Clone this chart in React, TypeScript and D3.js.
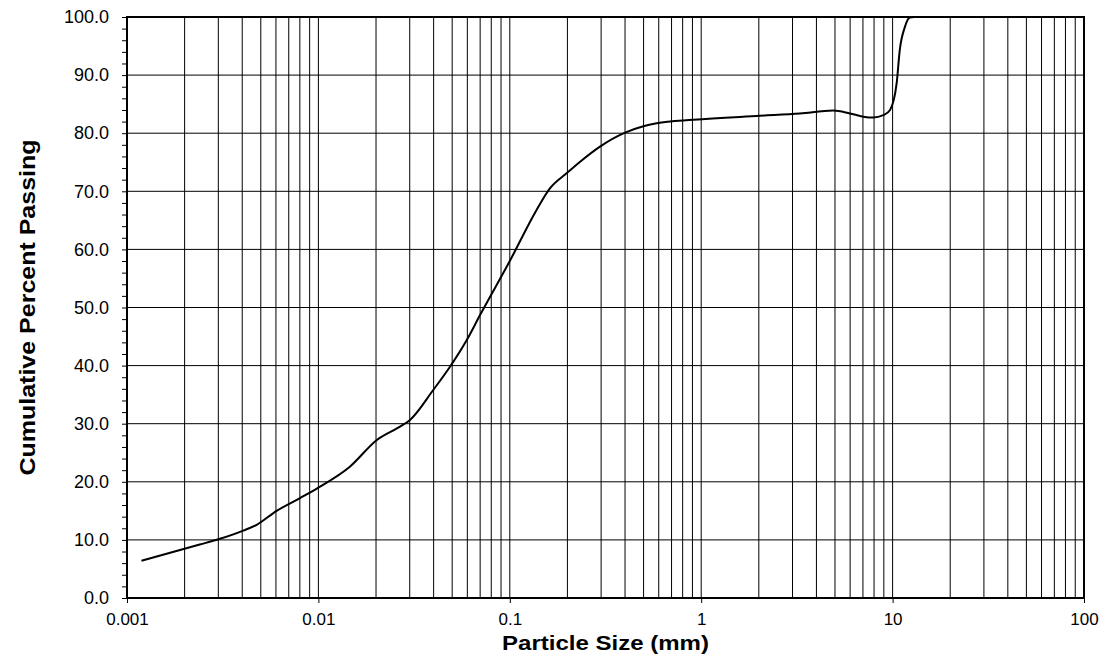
import { useEffect, useRef } from "react";
import * as d3 from "d3";

const WIDTH = 1114;
const HEIGHT = 657;
const MARGIN = { top: 17, right: 30, bottom: 59, left: 127 };
const INNER_W = WIDTH - MARGIN.left - MARGIN.right;
const INNER_H = HEIGHT - MARGIN.top - MARGIN.bottom;

// particle size (mm)
const sizes = [
  0.00119, 0.0024, 0.003, 0.00405, 0.00476, 0.00605, 0.00802, 0.01, 0.0146,
  0.0202, 0.0267, 0.03, 0.0398, 0.0487, 0.0596, 0.0699, 0.1, 0.138, 0.162,
  0.198, 0.233, 0.296, 0.4, 0.499, 0.585, 0.91, 2.03, 3.28, 4.9, 5.98, 7.03,
  7.93, 8.94, 9.7, 10.5, 10.9, 11.6, 12.3, 13, 25,
];
// cumulative percent passing
const passing = [
  6.4, 9.2, 10.1, 11.6, 12.6, 15.0, 17.2, 19.0, 22.6, 27.2, 29.5, 30.6, 35.8,
  39.8, 44.4, 48.7, 58.0, 66.8, 70.5, 73.1, 75.1, 77.7, 80.1, 81.2, 81.7,
  82.3, 83.0, 83.4, 83.9, 83.4, 82.85, 82.7, 83.1, 84.0, 88.6, 94.3, 98.3,
  99.9, 100, 100,
];

const xTicks = [0.001, 0.01, 0.1, 1, 10, 100];
const xTickLabels = ["0.001", "0.01", "0.1", "1", "10", "100"];
const yTicks = [0, 10, 20, 30, 40, 50, 60, 70, 80, 90, 100];

const FONT = "Arial, 'Liberation Sans', Helvetica, sans-serif";

export default function App() {
  const svgRef = useRef<SVGSVGElement>(null);

  useEffect(() => {
    document.body.style.margin = "0";
    if (!svgRef.current) return;
    const svg = d3.select(svgRef.current);
    svg.selectAll("*").remove();

    const x = d3.scaleLog().domain([0.001, 100]).range([0, INNER_W]);
    const y = d3.scaleLinear().domain([0, 100]).range([INNER_H, 0]);

    const g = svg
      .append("g")
      .attr("transform", `translate(${MARGIN.left},${MARGIN.top})`);

    // vertical grid: 1..9 in each decade
    const minorX: number[] = [];
    for (let d = -3; d <= 1; d++) {
      for (let k = 1; k <= 9; k++) minorX.push(k * Math.pow(10, d));
    }
    g.append("g")
      .selectAll("line")
      .data(minorX)
      .join("line")
      .attr("x1", (d) => x(d))
      .attr("x2", (d) => x(d))
      .attr("y1", 0)
      .attr("y2", INNER_H)
      .attr("stroke", "#000")
      .attr("stroke-width", 1);

    // horizontal grid
    g.append("g")
      .selectAll("line")
      .data(yTicks.slice(1, -1))
      .join("line")
      .attr("x1", 0)
      .attr("x2", INNER_W)
      .attr("y1", (d) => y(d))
      .attr("y2", (d) => y(d))
      .attr("stroke", "#000")
      .attr("stroke-width", 1);

    // minor y ticks
    const minorY = d3.range(0, 101, 2).filter((v) => v % 10 !== 0);
    g.append("g")
      .call(d3.axisLeft(y).tickValues(minorY).tickSize(5).tickFormat(() => ""))
      .call((a) => a.select(".domain").remove());

    // y axis
    g.append("g")
      .call(
        d3
          .axisLeft(y)
          .tickValues(yTicks)
          .tickSize(5)
          .tickPadding(13)
          .tickFormat((d) => (d as number).toFixed(1))
      )
      .call((a) => a.select(".domain").remove())
      .selectAll("text")
      .style("font-family", FONT)
      .style("font-size", "18px")
      .style("fill", "#000");

    // x axis
    g.append("g")
      .attr("transform", `translate(0,${INNER_H})`)
      .call(
        d3
          .axisBottom(x)
          .tickValues(xTicks)
          .tickSize(5)
          .tickPadding(10)
          .tickFormat((_, i) => xTickLabels[i])
      )
      .call((a) => a.select(".domain").remove())
      .selectAll("text")
      .style("font-family", FONT)
      .style("font-size", "17px")
      .style("fill", "#000");

    // frame
    g.append("rect")
      .attr("x", 0)
      .attr("y", 0)
      .attr("width", INNER_W)
      .attr("height", INNER_H)
      .attr("fill", "none")
      .attr("stroke", "#000")
      .attr("stroke-width", 2);

    // curve
    const pts = sizes.map((s, i) => [s, passing[i]] as [number, number]);
    g.append("path")
      .datum(pts)
      .attr("fill", "none")
      .attr("stroke", "#000")
      .attr("stroke-width", 2)
      .attr(
        "d",
        d3
          .line<[number, number]>()
          .x((d) => x(d[0]))
          .y((d) => y(d[1]))
          .curve(d3.curveMonotoneX)
      );

    // axis titles
    svg
      .append("text")
      .attr("x", MARGIN.left + INNER_W / 2)
      .attr("y", 650)
      .attr("text-anchor", "middle")
      .attr("textLength", 207)
      .attr("lengthAdjust", "spacingAndGlyphs")
      .style("font-family", FONT)
      .style("font-size", "20px")
      .style("font-weight", "bold")
      .text("Particle Size (mm)");

    svg
      .append("text")
      .attr(
        "transform",
        `translate(35,${MARGIN.top + INNER_H / 2}) rotate(-90)`
      )
      .attr("text-anchor", "middle")
      .attr("textLength", 336)
      .attr("lengthAdjust", "spacingAndGlyphs")
      .style("font-family", FONT)
      .style("font-size", "22px")
      .style("font-weight", "bold")
      .text("Cumulative Percent Passing");
  }, []);

  return (
    <svg
      ref={svgRef}
      width={WIDTH}
      height={HEIGHT}
      style={{ display: "block", background: "#fff" }}
    />
  );
}
